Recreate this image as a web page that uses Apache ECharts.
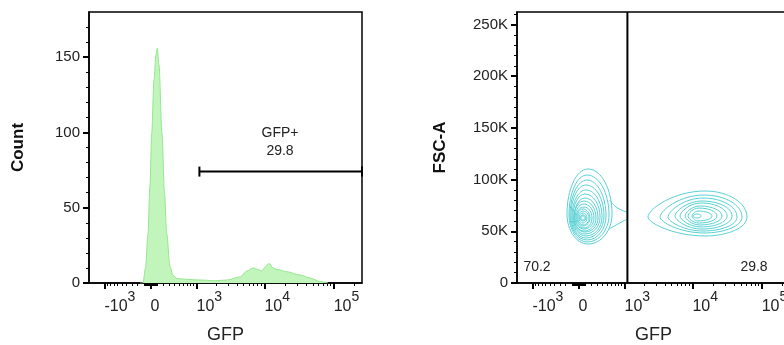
<!DOCTYPE html>
<html>
<head>
<meta charset="utf-8">
<script src="https://cdn.jsdelivr.net/npm/echarts@6/dist/echarts.min.js"></script>
<style>html,body{margin:0;background:#fff}#chart{width:784px;height:345px}</style>
</head>
<body>
<div id="chart"></div>
<script>
const FONT = '"Liberation Sans", Arial, sans-serif'
// biexponential-ish display: asinh with linear width W
const W = 455
const biex = v => Math.asinh(v / W)

const xMin = -1725
const xMax = 256000
const countMax = 180
const fscMax = 262144

const majorTicks = [-1000, 0, 1000, 10000, 100000]
const tickLabels = [['-10', '3'], ['0', ''], ['10', '3'], ['10', '4'], ['10', '5']]
const countTicks = [0, 50, 100, 150]
const fscTicks = [0, 50000, 100000, 150000, 200000, 250000]

// histogram: GFP value, count
const histGFP = [-160, -115, -76, -38, -8, 18, 53, 84, 104, 130, 178, 219, 257, 316, 373, 455, 644, 1135, 1915, 2866,
  4436, 5605, 6848, 8085, 9145, 10374, 11784, 13318, 15197, 20976, 32669, 45546, 63473, 82900]
const histCount = [0, 0, 10, 33, 65, 99, 135, 152, 156, 145, 99, 60, 33, 11, 5, 3, 2.5, 2, 1.5, 2,
  4, 8, 10, 9, 8, 11, 13, 10, 9, 7.5, 5.3, 3.3, 1, 0]

const gateGFP = 1110
const gateCount = 74
const gateName = 'GFP+'
const gatePct = '29.8'
const quadPct = ['70.2', '29.8']

// contour rings: [GFP left, GFP right, FSC bottom, FSC top, GFP centre, FSC centre]
const negContours = [
  [-178, 619, 37700, 110300, 146, 66700],
  [-146, 544, 39700, 104500, 130, 65800],
  [-130, 476, 41600, 99600, 130, 64800],
  [-115, 433, 43500, 94800, 115, 64800],
  [-99, 393, 45500, 90000, 115, 63800],
  [-84, 354, 47400, 86100, 99, 63800],
  [-68, 316, 49300, 82200, 99, 62900],
  [-68, 280, 50300, 79300, 84, 62900],
  [-53, 245, 52200, 76400, 84, 62900],
  [-38, 211, 53200, 73500, 84, 62900],
  [-23, 178, 55100, 71600, 68, 62900],
  [-8, 162, 56100, 69600, 68, 62900],
  [8, 130, 58000, 67700, 68, 62900],
  [23, 115, 60000, 65800, 68, 62900],
  [38, 99, 60900, 64800, 68, 62900]
]
const posContours = [
  [2266, 61380, 45500, 89000, 15197, 63800],
  [3399, 52006, 48400, 85100, 14700, 63800],
  [4436, 44044, 50300, 82200, 14228, 63800],
  [5605, 37310, 52200, 79300, 13764, 64800],
  [6625, 31622, 54200, 77400, 13318, 64800],
  [7826, 26754, 56100, 74500, 12877, 64800],
  [8645, 22659, 58000, 72500, 12453, 64800],
  [9874, 19200, 60000, 69600, 12058, 64800],
  [10206, 13318, 62900, 66700, 11648, 64800]
]
const tailUpper = [[569, 80300], [728, 73500], [1110, 68500]]
const tailLower = [[544, 52200], [784, 57100], [1110, 61900]]

const minorX = []
for (const d of [10, 100, 1000, 10000, 100000]) {
  for (let m = d < 1000 ? 1 : 2; m < 10; m++) {
    for (const v of [d * m, -d * m]) if (v > xMin && v < xMax) minorX.push(biex(v))
  }
}
const minorCount = []
for (let v = 10; v < countMax; v += 10) if (v % 50) minorCount.push(v)
const minorFsc = []
for (let v = 10000; v < fscMax; v += 10000) if (v % 50000) minorFsc.push(v)

const textColor = '#222'
const contourColor = '#58d0d3'

function xAxes(gridIndex) {
  const base = { type: 'value', gridIndex, position: 'bottom', min: biex(xMin), max: biex(xMax), splitLine: { show: false } }
  return [
    {
      ...base,
      name: 'GFP', nameLocation: 'middle', nameGap: 43,
      nameTextStyle: { fontFamily: FONT, fontSize: 18, color: textColor },
      axisLine: { onZero: false, lineStyle: { color: '#000', width: 1.5 } },
      axisTick: { customValues: majorTicks.map(biex), length: 6, lineStyle: { color: '#000', width: 2 } },
      axisLabel: {
        customValues: majorTicks.map(biex), align: 'left', margin: 7,
        formatter: v => {
          let i = 0
          majorTicks.forEach((t, j) => { if (Math.abs(biex(t) - v) < Math.abs(biex(majorTicks[i]) - v)) i = j })
          const [b, s] = tickLabels[i]
          return s ? `{b|${b}}{s|${s}}` : `{b|${b}}`
        },
        rich: {
          b: { fontFamily: FONT, fontSize: 16, color: textColor, lineHeight: 34 },
          s: { fontFamily: FONT, fontSize: 14, color: textColor, lineHeight: 16, verticalAlign: 'top' }
        }
      }
    },
    {
      ...base,
      axisLine: { show: false, onZero: false },
      axisTick: { customValues: minorX, length: 3, lineStyle: { color: '#000', width: 1 } },
      axisLabel: { show: false }
    }
  ]
}

function yAxes(gridIndex, max, ticks, minors, fmt, name, gap) {
  const base = { type: 'value', gridIndex, position: 'left', min: 0, max, splitLine: { show: false } }
  return [
    {
      ...base,
      name, nameLocation: 'middle', nameGap: gap,
      nameTextStyle: { fontFamily: FONT, fontSize: 17, fontWeight: 'bold', color: '#111' },
      axisLine: { onZero: false, lineStyle: { color: '#000', width: 1.5 } },
      axisTick: { customValues: ticks, length: 6, lineStyle: { color: '#000', width: 2 } },
      axisLabel: { customValues: ticks, formatter: fmt, margin: 9, fontFamily: FONT, fontSize: 15, color: textColor }
    },
    {
      ...base,
      axisLine: { show: false, onZero: false },
      axisTick: { customValues: minors, length: 3, lineStyle: { color: '#000', width: 1 } },
      axisLabel: { show: false }
    }
  ]
}

function contourItem(kLeft) {
  const k = 0.5523
  return (params, api) => {
    const L = api.coord([api.value(0), api.value(5)])
    const R = api.coord([api.value(1), api.value(5)])
    const B = api.coord([api.value(4), api.value(2)])
    const T = api.coord([api.value(4), api.value(3)])
    const cx = T[0], cy = L[1]
    const rl = cx - L[0], rr = R[0] - cx, rt = cy - T[1], rb = B[1] - cy
    const d = `M${L[0]} ${cy}` +
      `C${L[0]} ${cy - kLeft * rt} ${cx - k * rl} ${T[1]} ${cx} ${T[1]}` +
      `C${cx + k * rr} ${T[1]} ${R[0]} ${cy - k * rt} ${R[0]} ${cy}` +
      `C${R[0]} ${cy + k * rb} ${cx + k * rr} ${B[1]} ${cx} ${B[1]}` +
      `C${cx - k * rl} ${B[1]} ${L[0]} ${cy + kLeft * rb} ${L[0]} ${cy}Z`
    return { type: 'path', shape: { pathData: d }, style: { fill: null, stroke: contourColor, lineWidth: 1 } }
  }
}
const toDisp = r => [biex(r[0]), biex(r[1]), r[2], r[3], biex(r[4]), r[5]]

const chart = echarts.init(document.getElementById('chart'))
chart.setOption({
  animation: false,
  grid: [
    { left: 89, top: 12, width: 273, height: 271, show: true, borderColor: '#000', borderWidth: 1.5, outerBoundsMode: 'none' },
    { left: 517, top: 12, width: 273, height: 271, show: true, borderColor: '#000', borderWidth: 1.5, outerBoundsMode: 'none' }
  ],
  xAxis: [...xAxes(0), ...xAxes(1)],
  yAxis: [
    ...yAxes(0, countMax, countTicks, minorCount, v => String(v), 'Count', 62),
    ...yAxes(1, fscMax, fscTicks, minorFsc, v => (v ? v / 1000 + 'K' : '0'), 'FSC-A', 68)
  ],
  series: [
    {
      type: 'line', xAxisIndex: 0, yAxisIndex: 0,
      data: histGFP.map((g, i) => [biex(g), histCount[i]]),
      smooth: 0.3, smoothMonotone: 'x', symbol: 'none',
      lineStyle: { color: '#95e690', width: 1 },
      areaStyle: { color: '#c2f5bb', opacity: 1 }
    },
    {
      type: 'line', xAxisIndex: 0, yAxisIndex: 0, clip: false,
      data: [[biex(gateGFP), gateCount], [biex(xMax), gateCount]],
      symbol: 'rect', symbolSize: [2, 10], showSymbol: true,
      itemStyle: { color: '#000' }, lineStyle: { color: '#000', width: 2 }
    },
    {
      type: 'custom', xAxisIndex: 2, yAxisIndex: 2, clip: true,
      renderItem: contourItem(0.55), data: negContours.map(toDisp)
    },
    {
      type: 'custom', xAxisIndex: 2, yAxisIndex: 2, clip: true,
      renderItem: contourItem(0.3), data: posContours.map(toDisp)
    },
    ...[tailUpper, tailLower].map(t => ({
      type: 'line', xAxisIndex: 2, yAxisIndex: 2, smooth: 0.5, symbol: 'none',
      data: t.map(p => [biex(p[0]), p[1]]),
      lineStyle: { color: contourColor, width: 1 }
    })),
    {
      type: 'line', xAxisIndex: 2, yAxisIndex: 2, symbol: 'none',
      data: [[biex(gateGFP), 0], [biex(gateGFP), fscMax]],
      lineStyle: { color: '#000', width: 2 }
    }
  ],
  graphic: [
    { type: 'text', x: 280, y: 133, style: { text: gateName, font: `14px ${FONT}`, fill: textColor, align: 'center', verticalAlign: 'middle' } },
    { type: 'text', x: 280, y: 151, style: { text: gatePct, font: `14px ${FONT}`, fill: textColor, align: 'center', verticalAlign: 'middle' } },
    { type: 'text', x: 537, y: 267, style: { text: quadPct[0], font: `14px ${FONT}`, fill: textColor, align: 'center', verticalAlign: 'middle' } },
    { type: 'text', x: 754, y: 267, style: { text: quadPct[1], font: `14px ${FONT}`, fill: textColor, align: 'center', verticalAlign: 'middle' } }
  ]
})
</script>
</body>
</html>
